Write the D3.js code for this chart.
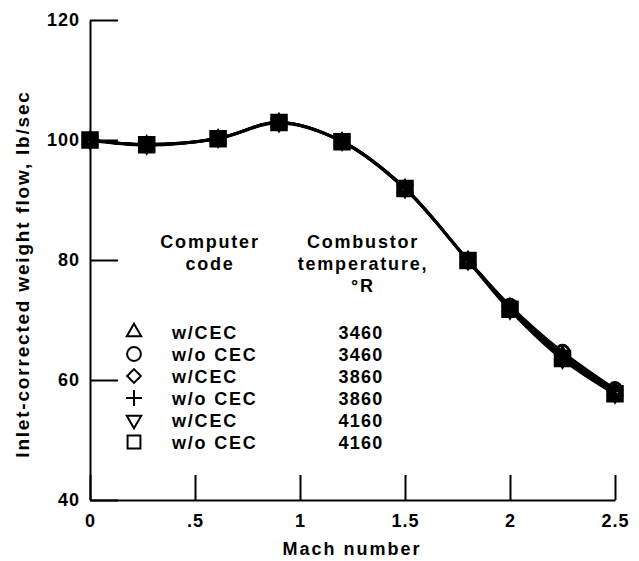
<!DOCTYPE html>
<html>
<head>
<meta charset="utf-8">
<script src="https://cdn.jsdelivr.net/npm/d3@7"></script>
<style>
  body { margin: 0; background: #fff; }
  text { font-family: "Liberation Sans", Arial, sans-serif; font-weight: bold; fill: #000; }
  .axis text { font-size: 18px; letter-spacing: 1px; }
  .axis path, .axis line { stroke: #000; stroke-width: 2; }
</style>
</head>
<body>
<svg id="chart" width="639" height="561"></svg>
<script>
// mach numbers of the computed points
let mach = [0, 0.27, 0.61, 0.9, 1.2, 1.5, 1.8, 2.0, 2.25, 2.5];

// inlet-corrected weight flow, lb/sec, one array per case
let triW3460 = [100, 99.3, 100.3, 103, 99.8, 92, 80, 72.2, 64.2, 58.2];
let circWo3460 = [100, 99.3, 100.3, 103, 99.8, 92, 80, 72.4, 64.7, 58.5];
let diamW3860 = [100, 99.2, 100.2, 102.9, 99.7, 91.9, 79.9, 72, 63.8, 58];
let plusWo3860 = [100, 99.2, 100.3, 102.9, 99.8, 92, 80, 72.1, 64.1, 58.2];
let invTriW4160 = [99.9, 99.1, 100.2, 102.8, 99.7, 91.8, 79.8, 71.6, 63.4, 57.6];
let sqWo4160 = [100, 99.2, 100.2, 102.9, 99.7, 91.9, 79.9, 71.8, 63.6, 57.7];

let codes = ["w/CEC", "w/o CEC", "w/CEC", "w/o CEC", "w/CEC", "w/o CEC"];
let temps = ["3460", "3460", "3860", "3860", "4160", "4160"];
let xTicks = [0, 0.5, 1, 1.5, 2, 2.5];
let xTickLabels = ["0", ".5", "1", "1.5", "2", "2.5"];
let yTicks = [40, 60, 80, 100, 120];

let series = [triW3460, circWo3460, diamW3860, plusWo3860, invTriW4160, sqWo4160];
let symbols = [
    {type: d3.symbolTriangle2, rot: 0, size: 115, legSize: 150},
    {type: d3.symbolCircle, rot: 0, size: 130, legSize: 150},
    {type: d3.symbolDiamond2, rot: 0, size: 95, legSize: 120},
    {type: d3.symbolPlus, rot: 0, size: 70, legSize: 85},
    {type: d3.symbolTriangle2, rot: 180, size: 115, legSize: 150},
    {type: d3.symbolSquare2, rot: 0, size: 200, legSize: 210}
];

let svg = d3.select("#chart");

let xScale = d3.scaleLinear().domain([0, 2.5]).range([90, 615]);
let yScale = d3.scaleLinear().domain([40, 120]).range([500, 20]);

//axes, ticks point inward
svg.append("g")
    .attr("class", "axis")
    .attr("transform", "translate(0, 500)")
    .call(d3.axisBottom(xScale)
        .tickValues(xTicks)
        .tickFormat((d, i) => xTickLabels[i])
        .tickSizeInner(-25)
        .tickSizeOuter(0)
        .tickPadding(14));

svg.append("g")
    .attr("class", "axis")
    .attr("transform", "translate(90, 0)")
    .call(d3.axisLeft(yScale)
        .tickValues(yTicks)
        .tickSizeInner(-28)
        .tickSizeOuter(0)
        .tickPadding(10));

//curves
let line = d3.line()
    .x((d, i) => xScale(mach[i]))
    .y(d => yScale(d))
    .curve(d3.curveCatmullRom.alpha(0.5));

for (let s = 0; s < series.length; s++) {
    svg.append("path")
        .attr("d", line(series[s]))
        .attr("fill", "none")
        .attr("stroke", "#000")
        .attr("stroke-width", 2.5);
}

//markers - all six overlap, so they read as a dark blob
for (let s = 0; s < series.length; s++) {
    let sym = d3.symbol().type(symbols[s].type).size(symbols[s].size);
    svg.append("g").selectAll("path")
        .data(series[s])
        .enter()
        .append("path")
        .attr("d", sym)
        .attr("transform", (d, i) => `translate(${xScale(mach[i])}, ${yScale(d)}) rotate(${symbols[s].rot})`)
        .attr("fill", "none")
        .attr("stroke", "#000")
        .attr("stroke-width", s == 5 ? 5 : 3);
}

//legend headers
let headers = [
    {x: 210, lines: ["Computer", "code"]},
    {x: 363, lines: ["Combustor", "temperature,", "°R"]}
];
headers.forEach(h => {
    h.lines.forEach((t, k) => {
        svg.append("text")
            .attr("x", h.x)
            .attr("y", 248 + k * 22)
            .attr("text-anchor", "middle")
            .attr("font-size", 18)
            .attr("letter-spacing", 1.8)
            .text(t);
    });
});

//legend rows
for (let r = 0; r < codes.length; r++) {
    let cy = 332 + r * 22;
    svg.append("path")
        .attr("d", d3.symbol().type(symbols[r].type).size(symbols[r].legSize)())
        .attr("transform", `translate(134, ${cy}) rotate(${symbols[r].rot})`)
        .attr("fill", "none")
        .attr("stroke", "#000")
        .attr("stroke-width", 2);
    svg.append("text")
        .attr("x", 172)
        .attr("y", cy + 6.5)
        .attr("font-size", 18)
        .attr("letter-spacing", 1.8)
        .text(codes[r]);
    svg.append("text")
        .attr("x", 361)
        .attr("y", cy + 6.5)
        .attr("text-anchor", "middle")
        .attr("font-size", 18)
        .attr("letter-spacing", 1.2)
        .text(temps[r]);
}

//axis titles
svg.append("text")
    .attr("transform", "translate(29, 274) rotate(-90)")
    .attr("text-anchor", "middle")
    .attr("font-size", 19)
    .attr("letter-spacing", 1.8)
    .text("Inlet-corrected weight flow, lb/sec");

svg.append("text")
    .attr("x", 352)
    .attr("y", 555)
    .attr("text-anchor", "middle")
    .attr("font-size", 18)
    .attr("letter-spacing", 2)
    .text("Mach number");
</script>
</body>
</html>
